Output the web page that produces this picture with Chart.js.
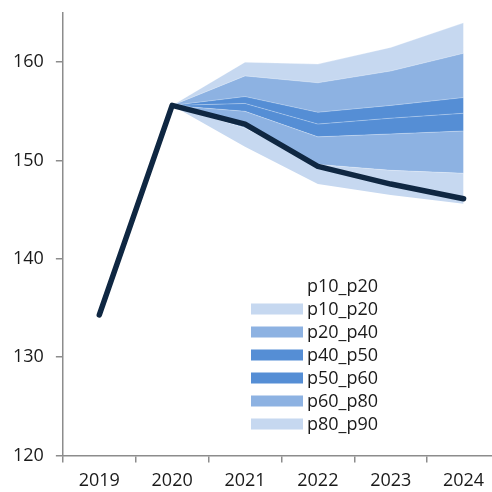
<!DOCTYPE html>
<html>
<head>
<meta charset="utf-8">
<script src="https://cdn.jsdelivr.net/npm/chart.js@4"></script>
<style>
  html, body { margin: 0; padding: 0; background: #fff; overflow: hidden; }
  #wrap { width: 500px; height: 500px; }
</style>
</head>
<body>
<div id="wrap"><canvas id="fanChart"></canvas></div>
<script>
// dane
const years = ['2019', '2020', '2021', '2022', '2023', '2024'];
const actual = [134.3, 155.6, 153.7, 149.4, 147.6, 146.1];

const p10 = [null, 155.6, 151.4, 147.6, 146.5, 145.6];
const p20 = [null, 155.6, 153.3, 149.6, 149.0, 148.7];
const p40 = [null, 155.6, 155.0, 152.4, 152.7, 153.0];
const p50 = [null, 155.6, 155.8, 153.7, 154.3, 154.8];
const p60 = [null, 155.6, 156.5, 154.9, 155.6, 156.4];
const p80 = [null, 155.6, 158.6, 157.9, 159.1, 160.9];
const p90 = [null, 155.6, 160.0, 159.8, 161.5, 164.0];

const yTicks = [120, 130, 140, 150, 160];

const light = '#c6d8f0';
const mid = '#8db2e2';
const dark = '#558ed5';

function band(label, data, color) {
    return {
        label: label,
        data: data,
        backgroundColor: color,
        borderColor: 'rgba(255,255,255,0.35)',
        borderWidth: 0.8,
        pointRadius: 0,
        fill: '-1',
        tension: 0,
        order: 2
    };
}

const datasets = [
    {
        label: 'actual',
        data: actual,
        borderColor: '#0f2742',
        borderWidth: 5.5,
        borderCapStyle: 'round',
        borderJoinStyle: 'round',
        pointRadius: 0,
        fill: false,
        order: 0,
        hideInLegend: true
    },
    {
        label: 'p10_p20',
        data: p10,
        borderColor: 'rgba(0,0,0,0)',
        backgroundColor: 'rgba(0,0,0,0)',
        borderWidth: 0,
        pointRadius: 0,
        fill: false,
        order: 3,
        noSwatch: true
    },
    band('p10_p20', p20, light),
    band('p20_p40', p40, mid),
    band('p40_p50', p50, dark),
    band('p50_p60', p60, dark),
    band('p60_p80', p80, mid),
    band('p80_p90', p90, light)
];

// legenda rysowana wewnątrz obszaru wykresu
const insideLegend = {
    id: 'insideLegend',
    afterDraw(chart) {
        const ctx = chart.ctx;
        const x0 = 251, y0 = 286, step = 23;
        ctx.save();
        ctx.font = '18px "Open Sans", sans-serif';
        ctx.textBaseline = 'middle';
        let i = 0;
        chart.data.datasets.forEach(ds => {
            if (ds.hideInLegend) return;
            const y = y0 + i * step;
            if (!ds.noSwatch) {
                ctx.fillStyle = ds.backgroundColor;
                ctx.fillRect(x0, y - 5.5, 52, 11);
            }
            ctx.fillStyle = '#1a1a1a';
            ctx.fillText(ds.label, x0 + 56, y + 1);
            i++;
        });
        ctx.restore();
    }
};

new Chart(document.getElementById('fanChart'), {
    type: 'line',
    data: { labels: years, datasets: datasets },
    options: {
        responsive: true,
        maintainAspectRatio: false,
        animation: false,
        layout: { padding: { top: 13, right: 0, bottom: 0, left: 1 } },
        plugins: {
            legend: { display: false },
            tooltip: { enabled: false },
            filler: { propagate: false }
        },
        scales: {
            x: {
                offset: true,
                grid: { display: true, drawOnChartArea: false, offset: true, tickLength: 7, color: '#8c8c8c', lineWidth: 1.5 },
                border: { color: '#8c8c8c', width: 1.5 },
                ticks: { color: '#1a1a1a', font: { size: 18, family: '"Open Sans", sans-serif' }, padding: 8 }
            },
            y: {
                min: 120,
                max: 165,
                afterBuildTicks: axis => { axis.ticks = yTicks.map(v => ({ value: v })); },
                grid: { display: true, drawOnChartArea: false, tickLength: 7, color: '#8c8c8c', lineWidth: 1.5 },
                border: { color: '#8c8c8c', width: 1.5 },
                ticks: { color: '#1a1a1a', font: { size: 18, family: '"Open Sans", sans-serif', lineHeight: 0.1 }, padding: 12 }
            }
        }
    },
    plugins: [insideLegend]
});
</script>
</body>
</html>
